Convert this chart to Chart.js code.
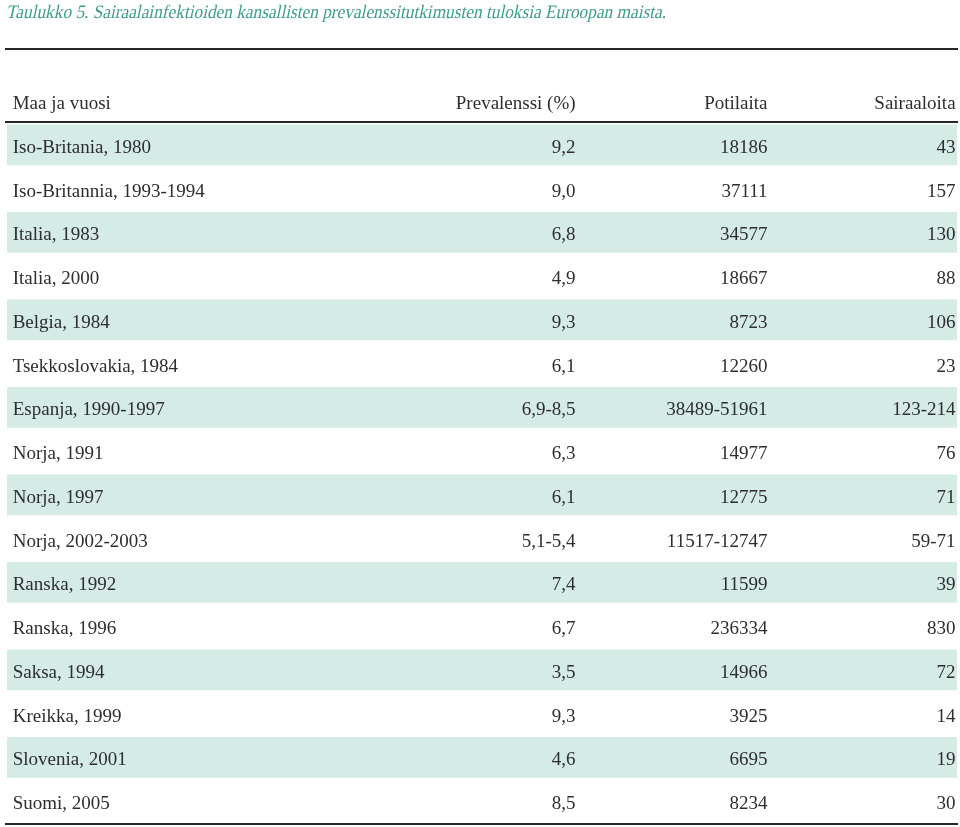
<!DOCTYPE html>
<html><head><meta charset="utf-8"><script src="https://cdn.jsdelivr.net/npm/chart.js@4"></script></head>
<body style="margin:0">
<canvas id="c" width="960" height="827"></canvas>
<script>
const tableTitle = 'Taulukko 5. Sairaalainfektioiden kansallisten prevalenssitutkimusten tuloksia Euroopan maista.';
const headers = ['Maa ja vuosi', 'Prevalenssi (%)', 'Potilaita', 'Sairaaloita'];
const countries = ['Iso-Britania, 1980','Iso-Britannia, 1993-1994','Italia, 1983','Italia, 2000','Belgia, 1984','Tsekkoslovakia, 1984','Espanja, 1990-1997','Norja, 1991','Norja, 1997','Norja, 2002-2003','Ranska, 1992','Ranska, 1996','Saksa, 1994','Kreikka, 1999','Slovenia, 2001','Suomi, 2005'];
const prevalence = ['9,2','9,0','6,8','4,9','9,3','6,1','6,9-8,5','6,3','6,1','5,1-5,4','7,4','6,7','3,5','9,3','4,6','8,5'];
const patients = ['18186','37111','34577','18667','8723','12260','38489-51961','14977','12775','11517-12747','11599','236334','14966','3925','6695','8234'];
const hospitals = ['43','157','130','88','106','23','123-214','76','71','59-71','39','830','72','14','19','30'];

Chart.defaults.font.family = '"Liberation Serif"';
const cellFont = '19px "Liberation Serif"';
const cellColor = '#2e2e2e';
const bandColor = '#d5ebe6';
const colX = [0.006, 0.5985, 0.8005, 0.9985];
const colAlign = ['left', 'right', 'right', 'right'];
const bands = countries.map((_, i) => i % 2 === 0 ? [0, 1] : null);

const tablePlugin = {
  id: 'tableText',
  afterDraw(chart) {
    const ctx = chart.ctx;
    const xs = chart.scales.x, ys = chart.scales.y;
    const area = chart.chartArea;
    ctx.save();
    ctx.fillStyle = cellColor;
    ctx.textBaseline = 'alphabetic';
    const headY = area.top - 14;
    headers.forEach((h, c) => {
      ctx.font = cellFont;
      ctx.textAlign = colAlign[c];
      ctx.fillText(h, xs.getPixelForValue(colX[c]), headY);
    });
    const cols = [countries, prevalence, patients, hospitals];
    countries.forEach((_, i) => {
      const y = ys.getPixelForValue(i) + 8;
      cols.forEach((col, c) => {
        ctx.font = cellFont;
        ctx.textAlign = colAlign[c];
        ctx.fillText(col[i], xs.getPixelForValue(colX[c]), y);
      });
    });
    ctx.strokeStyle = '#262626';
    ctx.lineWidth = 2;
    ctx.beginPath();
    ctx.moveTo(5, 49); ctx.lineTo(958, 49);
    ctx.moveTo(area.left - 2, area.top - 1); ctx.lineTo(area.right + 1, area.top - 1);
    ctx.moveTo(area.left - 2, area.bottom + 1); ctx.lineTo(area.right + 1, area.bottom + 1);
    ctx.stroke();
    ctx.font = cellFont;
    ctx.fillStyle = '#3f9c8b';
    ctx.textAlign = 'left';
    const w = ctx.measureText(tableTitle).width;
    const sx = Math.min(1, 660 / w);
    ctx.translate(6, 18);
    ctx.transform(sx, 0, -0.22, 1, 0, 0);
    ctx.fillText(tableTitle, 0, 0);
    ctx.restore();
  }
};

new Chart(document.getElementById('c'), {
  type: 'bar',
  data: {
    labels: countries,
    datasets: [{
      data: bands,
      backgroundColor: bandColor,
      borderWidth: 0,
      barPercentage: 0.93,
      categoryPercentage: 1.0
    }]
  },
  options: {
    indexAxis: 'y',
    responsive: false,
    animation: false,
    layout: { padding: { left: 7, right: 3, top: 123, bottom: 4 } },
    plugins: { legend: { display: false }, tooltip: { enabled: false } },
    scales: {
      x: { type: 'linear', min: 0, max: 1, display: false },
      y: { type: 'category', display: false, offset: true }
    }
  },
  plugins: [tablePlugin]
});
</script></body></html>
